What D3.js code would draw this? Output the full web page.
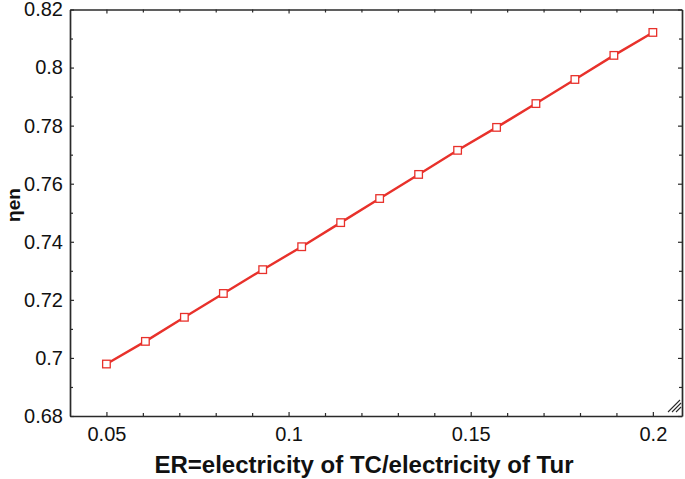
<!DOCTYPE html>
<html><head><meta charset="utf-8">
<script src="https://cdn.jsdelivr.net/npm/d3@7"></script>
<style>body{margin:0;background:#fff;}svg{display:block;}</style>
</head><body>
<script>
const xValues = [0.05, 0.0607, 0.0714, 0.0821, 0.0929, 0.1036, 0.1143, 0.125, 0.1357, 0.1464, 0.1571, 0.1679, 0.1786, 0.1893, 0.2];
const yValues = [0.6979, 0.7057, 0.7140, 0.7222, 0.7304, 0.7383, 0.7466, 0.7549, 0.7632, 0.7715, 0.7794, 0.7876, 0.7959, 0.8042, 0.8121];
const xTicks = [0.05, 0.1, 0.15, 0.2];
const xTickLabels = ["0.05", "0.1", "0.15", "0.2"];
const yTicks = [0.68, 0.70, 0.72, 0.74, 0.76, 0.78, 0.80, 0.82];
const yTickLabels = ["0.68", "0.7", "0.72", "0.74", "0.76", "0.78", "0.8", "0.82"];
const xTitle = "ER=electricity of TC/electricity of Tur";

const W = 685, H = 479;
const m = {left: 70, right: 682, top: 9.5, bottom: 416};
const x = d3.scaleLinear().domain([0.04, 0.208]).range([m.left, m.right]);
const y = d3.scaleLinear().domain([0.68, 0.82]).range([m.bottom, m.top]);

const svg = d3.select("body").append("svg").attr("width", W).attr("height", H);
const axisColor = "#2a2a2a";
const font = "'Liberation Sans', Arial, sans-serif";

const xMinor = d3.range(0.05, 0.2051, 0.01).map(v => +v.toFixed(3)).filter(v => !xTicks.some(t => Math.abs(t - v) < 1e-6));
const yMinor = d3.range(0.69, 0.82, 0.02).map(v => +v.toFixed(3));

// Bottom axis
const gB = svg.append("g").attr("transform", `translate(0,${m.bottom})`)
  .call(d3.axisBottom(x).tickValues(xTicks).tickFormat((d,i)=>xTickLabels[i]).tickSizeInner(-4).tickSizeOuter(0).tickPadding(11));
gB.append("g").call(d3.axisBottom(x).tickValues(xMinor).tickFormat("").tickSizeInner(-3).tickSizeOuter(0)).select(".domain").remove();
// Top axis
const gT = svg.append("g").attr("transform", `translate(0,${m.top})`)
  .call(d3.axisTop(x).tickValues(xTicks).tickFormat("").tickSizeInner(-4).tickSizeOuter(0));
gT.append("g").call(d3.axisTop(x).tickValues(xMinor).tickFormat("").tickSizeInner(-3).tickSizeOuter(0)).select(".domain").remove();
// Left axis
const gL = svg.append("g").attr("transform", `translate(${m.left},0)`)
  .call(d3.axisLeft(y).tickValues(yTicks).tickFormat((d,i)=>yTickLabels[i]).tickSizeInner(-4).tickSizeOuter(0).tickPadding(7));
gL.append("g").call(d3.axisLeft(y).tickValues(yMinor).tickFormat("").tickSizeInner(-3).tickSizeOuter(0)).select(".domain").remove();
// Right axis
const gR = svg.append("g").attr("transform", `translate(${m.right},0)`)
  .call(d3.axisRight(y).tickValues(yTicks).tickFormat("").tickSizeInner(-4).tickSizeOuter(0));
gR.append("g").call(d3.axisRight(y).tickValues(yMinor).tickFormat("").tickSizeInner(-3).tickSizeOuter(0)).select(".domain").remove();

svg.selectAll(".domain").attr("stroke", axisColor).attr("stroke-width", 1.7);
svg.selectAll(".tick line").attr("stroke", axisColor).attr("stroke-width", 1.2);
svg.selectAll(".tick text").attr("font-family", font).attr("font-size", 20).attr("fill", "#111");

// Corner hatch
const hatch = svg.append("g").attr("stroke", axisColor).attr("stroke-width", 1.1);
[[668, 412, 680, 400], [672, 412, 681, 403], [676, 412, 681, 407]].forEach(d => {
  hatch.append("line").attr("x1", d[0]).attr("y1", d[1]).attr("x2", d[2]).attr("y2", d[3]);
});

// Line
const pts = xValues.map((v, i) => [v, yValues[i]]);
svg.append("path").datum(pts)
  .attr("d", d3.line().x(d => x(d[0])).y(d => y(d[1])))
  .attr("fill", "none").attr("stroke", "#e8312b").attr("stroke-width", 2.4);

// Markers
svg.append("g").selectAll("rect").data(pts).join("rect")
  .attr("x", d => x(d[0]) - 3.8).attr("y", d => y(d[1]) - 3.8)
  .attr("width", 7.6).attr("height", 7.6)
  .attr("fill", "#fff").attr("stroke", "#e8312b").attr("stroke-width", 1.3);

// Axis titles
svg.append("text").attr("x", 364).attr("y", 473).attr("text-anchor", "middle")
  .attr("font-family", font).attr("font-weight", "bold").attr("font-size", 24).attr("fill", "#111")
  .text(xTitle);
svg.append("text").attr("transform", "translate(20,205) rotate(-90)").attr("text-anchor", "middle")
  .attr("font-family", font).attr("font-weight", "bold").attr("font-size", 19).attr("fill", "#111")
  .text("ηen");
</script>
</body></html>
